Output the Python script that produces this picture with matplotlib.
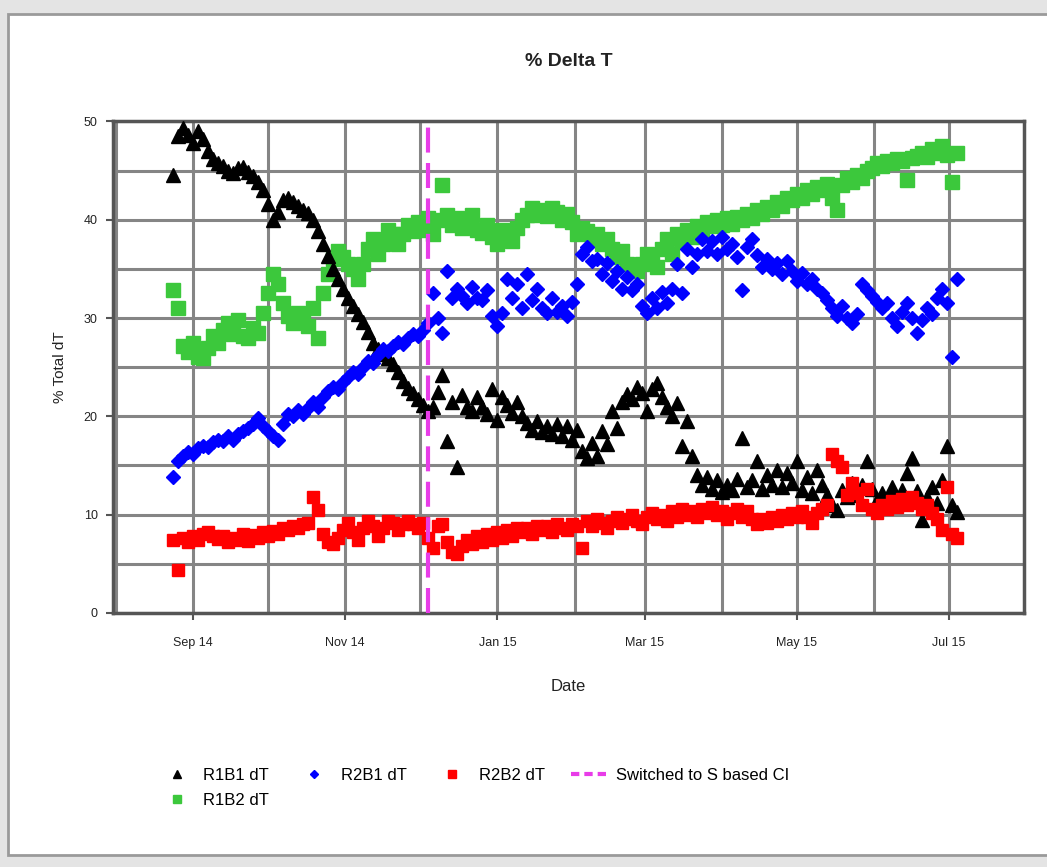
import matplotlib
matplotlib.use("Agg")
import matplotlib.pyplot as plt
import matplotlib.dates as mdates
from matplotlib.ticker import MultipleLocator
from matplotlib.patches import Rectangle
from matplotlib.lines import Line2D
import pandas as pd

plt.rcParams['font.family'] = ['Liberation Sans Narrow', 'Liberation Sans', 'DejaVu Sans']

# Readings every second day, 24 Aug 2014 onwards
start_date = "2014-08-24"
switch_date = "2014-12-04"

r1b1 = [44.5, 48.5, 49.3, 48.6, 47.8, 49.0, 48.2, 47.0, 46.2, 45.8,
        45.5, 45.0, 44.8, 45.3, 45.4, 44.9, 44.4, 43.8, 43.0, 41.6,
        40.0, 40.8, 42.0, 42.2, 41.8, 41.4, 41.0, 40.7, 40.0, 38.8,
        37.5, 36.3, 35.0, 34.0, 33.0, 32.0, 31.2, 30.4, 29.6, 28.6,
        27.5, 26.8, 26.3, 25.9, 25.3, 24.5, 23.6, 22.9, 22.4, 21.8,
        21.2, 20.5, 21.0, 22.5, 24.2, 17.5, 21.5, 14.8, 22.2, 21.0,
        20.5, 22.0, 21.0, 20.2, 22.8, 19.6, 22.0, 21.2, 20.3, 21.5,
        20.0, 19.3, 18.6, 19.5, 18.4, 19.0, 18.2, 19.2, 18.0, 19.0,
        17.6, 18.6, 16.5, 15.8, 17.3, 16.0, 18.5, 17.2, 20.5, 18.8,
        21.5, 22.3, 21.8, 23.0, 22.4, 20.5, 22.8, 23.4, 22.0, 21.0,
        20.0, 21.4, 17.0, 19.5, 16.0, 14.0, 13.0, 13.8, 12.6, 13.5,
        12.3, 13.0, 12.5, 13.6, 17.8, 12.8, 13.5, 15.5, 12.6, 14.0,
        13.0, 14.5, 12.8, 14.2, 13.2, 15.5, 12.5, 13.8, 12.2, 14.5,
        13.0, 12.0, 11.0, 10.5, 12.5, 11.8, 13.2, 12.0, 13.0, 15.5,
        12.6, 11.5, 12.2, 11.0, 12.8, 11.6, 12.5, 14.2, 15.8, 12.4,
        9.5, 11.8, 12.8, 11.2, 13.5, 17.0, 11.0, 10.3]

r1b2 = [32.8, 31.0, 27.2, 26.5, 27.5, 26.0, 25.9, 27.0, 28.2, 27.5,
        28.8, 29.5, 28.4, 29.8, 28.2, 28.0, 29.0, 28.5, 30.5, 32.5,
        34.5, 33.5, 31.5, 30.2, 29.5, 30.5, 30.0, 29.2, 31.0, 28.0,
        32.5, 34.5, 36.0, 36.8, 36.2, 35.5, 35.0, 34.0, 35.5, 37.0,
        38.0, 36.5, 37.5, 39.0, 38.5, 37.5, 38.5, 39.5, 38.8, 39.8,
        39.0, 40.2, 38.5, 40.0, 43.5, 40.5, 39.5, 40.2, 39.2, 39.8,
        40.5, 39.0, 38.6, 39.5, 38.2, 37.5, 39.0, 38.2, 37.8, 39.2,
        40.0, 40.5, 41.2, 40.5, 41.0, 40.4, 41.2, 40.8, 40.0, 40.6,
        39.8, 38.5, 39.2, 38.8, 38.0, 38.5, 37.5, 38.0, 37.0, 36.2,
        36.8, 35.5, 35.0, 34.8, 35.5, 36.5, 36.0, 35.2, 37.0, 38.0,
        36.5, 38.5, 37.8, 39.0, 38.2, 39.4, 39.0, 39.8, 39.4, 40.0,
        39.5, 40.2, 39.6, 40.3, 40.0, 40.6, 40.2, 41.0, 40.6, 41.3,
        41.0, 41.8, 41.4, 42.2, 42.0, 42.6, 42.2, 43.0, 42.6, 43.3,
        43.0, 43.6, 42.2, 41.0, 43.5, 44.2, 43.8, 44.5, 44.2, 45.0,
        45.3, 45.8, 45.5, 46.0, 45.8, 46.2, 46.0, 44.0, 46.3, 46.5,
        46.8, 46.4, 47.2, 46.8, 47.5, 46.6, 43.8, 46.8]

r2b1 = [13.8, 15.5, 16.0, 16.4, 16.2, 16.8, 17.0, 16.9, 17.4, 17.6,
        17.5, 18.0, 17.6, 18.2, 18.5, 18.8, 19.2, 19.8, 19.0, 18.5,
        18.0, 17.6, 19.2, 20.2, 20.0, 20.6, 20.2, 20.8, 21.5, 21.0,
        22.0, 22.6, 23.0, 22.8, 23.5, 24.0, 24.5, 24.3, 25.0, 25.6,
        25.4, 26.2, 26.8, 26.6, 27.2, 27.6, 27.4, 28.0, 28.4, 28.2,
        28.8, 29.5, 32.5, 30.0, 28.5, 34.8, 32.0, 33.0, 32.2, 31.5,
        33.2, 32.0, 31.8, 32.8, 30.2, 29.2, 30.5, 34.0, 32.0, 33.5,
        31.0, 34.5, 31.8, 33.0, 31.0, 30.5, 32.0, 30.6, 31.2, 30.2,
        31.6, 33.5, 36.5, 37.2, 35.8, 36.0, 34.5, 35.6, 33.8, 34.8,
        33.0, 34.2, 32.8, 33.5, 31.2, 30.5, 32.0, 31.0, 32.6, 31.5,
        33.0, 35.5, 32.5, 37.0, 35.2, 36.5, 38.0, 36.8, 37.8, 36.5,
        38.2, 37.0, 37.5, 36.2, 32.8, 37.2, 38.0, 36.4, 35.2, 36.0,
        35.0, 35.6, 34.5, 35.8, 34.8, 33.8, 34.6, 33.5, 34.0, 33.0,
        32.5, 31.8, 31.0, 30.2, 31.2, 30.0, 29.5, 30.4, 33.5, 32.8,
        32.2, 31.6, 31.0, 31.5, 30.0, 29.2, 30.6, 31.5, 30.0, 28.5,
        29.8, 31.0, 30.4, 32.0, 33.0, 31.5, 26.0, 34.0]

r2b2 = [7.4, 4.4, 7.6, 7.2, 7.8, 7.4, 8.0, 8.2, 7.8, 7.5,
        7.8, 7.2, 7.6, 7.4, 8.0, 7.3, 7.9, 7.6, 8.2, 7.8,
        8.3, 8.0, 8.6, 8.4, 8.8, 8.6, 9.0, 9.2, 11.8, 10.5,
        8.0, 7.2, 7.0, 7.6, 8.4, 9.2, 8.2, 7.4, 8.6, 9.4,
        8.8, 7.8, 8.6, 9.4, 9.2, 8.4, 9.0, 9.4, 9.0, 8.6,
        9.2, 7.6, 6.6, 8.8, 9.0, 7.2, 6.2, 6.0, 6.8, 7.4,
        7.0, 7.8, 7.2, 8.0, 7.4, 8.2, 7.6, 8.4, 7.8, 8.6,
        8.2, 8.6, 8.0, 8.8, 8.4, 8.8, 8.2, 9.0, 8.6, 8.4,
        9.0, 8.8, 6.6, 9.4, 8.8, 9.6, 9.2, 8.6, 9.4, 9.8,
        9.2, 9.6, 10.0, 9.4, 9.0, 9.8, 10.2, 9.6, 10.0, 9.4,
        10.4, 9.8, 10.6, 10.0, 10.4, 9.8, 10.6, 10.2, 10.8, 10.0,
        10.4, 9.6, 10.2, 10.6, 9.8, 10.4, 9.6, 9.0, 9.6, 9.2,
        9.8, 9.4, 10.0, 9.6, 10.2, 9.8, 10.4, 9.8, 9.2, 10.2,
        10.6, 11.0, 16.2, 15.5, 14.8, 12.0, 13.2, 12.2, 11.0, 12.6,
        10.6, 10.2, 11.0, 10.6, 11.4, 10.8, 11.6, 11.0, 11.8, 11.2,
        10.6, 11.0, 10.2, 9.6, 8.4, 12.8, 8.0, 7.6]

dates = pd.date_range(start_date, periods=len(r1b1), freq="2D")

fig = plt.figure(figsize=(10.47, 8.67), dpi=100)
fig.patch.set_facecolor("#e4e4e4")
frame = Rectangle((0.008, 0.014), 1.0, 0.97, transform=fig.transFigure,
                  facecolor="white", edgecolor="#9a9a9a", linewidth=2.0)
frame.set_zorder(-10)
fig.add_artist(frame)

ax = fig.add_axes([0.108, 0.293, 0.870, 0.567])
ax.set_zorder(5)
ax.set_facecolor("white")

grid_col = "#858585"
switch_col = "#e83ce8"
ax.plot(dates, r1b2, linestyle="none", marker="s", markersize=10.5,
        color="#3cc83c", label="R1B2 dT", zorder=3)
ax.plot(dates, r1b1, linestyle="none", marker="^", markersize=9.5,
        color="black", label="R1B1 dT", zorder=4)
ax.plot(dates, r2b1, linestyle="none", marker="D", markersize=7.5,
        color="#0000ff", label="R2B1 dT", zorder=5)
ax.plot(dates, r2b2, linestyle="none", marker="s", markersize=8.5,
        color="#ff0000", label="R2B2 dT", zorder=6)
ax.axvline(pd.Timestamp(switch_date), color=switch_col, linewidth=3,
           linestyle=(0, (6, 2.5)), zorder=7)

ax.set_xlim(pd.Timestamp("2014-07-31"), pd.Timestamp("2015-07-31"))
ax.set_ylim(0, 50)
ax.xaxis.set_major_locator(mdates.MonthLocator(bymonth=[9, 11, 1, 3, 5, 7]))
ax.xaxis.set_major_formatter(mdates.DateFormatter("%b %y"))
ax.xaxis.set_minor_locator(mdates.MonthLocator())
ax.yaxis.set_major_locator(MultipleLocator(10))
ax.yaxis.set_minor_locator(MultipleLocator(5))
ax.grid(True, which="both", color=grid_col, linewidth=2.2, zorder=1)
ax.set_axisbelow(True)
ax.tick_params(axis="x", which="major", labelsize=9, length=5, width=1.5,
               color="#555555", labelcolor="#222222", pad=12)
ax.tick_params(axis="y", which="major", labelsize=9, length=5, width=1.5,
               color="#555555", labelcolor="#222222", pad=6)
ax.tick_params(axis="both", which="minor", length=0)
for s in ax.spines.values():
    s.set_color("#555555")
    s.set_linewidth(2.5)

ax.set_title("% Delta T", fontsize=14, fontweight="bold", pad=40, color="#222222")
ax.set_xlabel("Date", fontsize=12, labelpad=22, color="#222222")
ax.set_ylabel("% Total dT", fontsize=11, labelpad=12, color="#222222")

handles, labels = ax.get_legend_handles_labels()
hmap = dict(zip(labels, handles))
hmap["Switched to S based CI"] = Line2D([], [], color=switch_col, linewidth=3,
                                        linestyle=(0, (2, 1.2)))
order = ["R1B1 dT", "R1B2 dT", "R2B1 dT", "R2B2 dT", "Switched to S based CI"]
fig.legend([hmap[k] for k in order], order, ncol=4, loc="upper left",
           bbox_to_anchor=(0.145, 0.122), frameon=False, fontsize=12,
           handlelength=2.2, columnspacing=1.6, handletextpad=0.5,
           labelspacing=0.6, markerscale=0.6, borderaxespad=0)

fig.savefig("out.png", dpi=100)
